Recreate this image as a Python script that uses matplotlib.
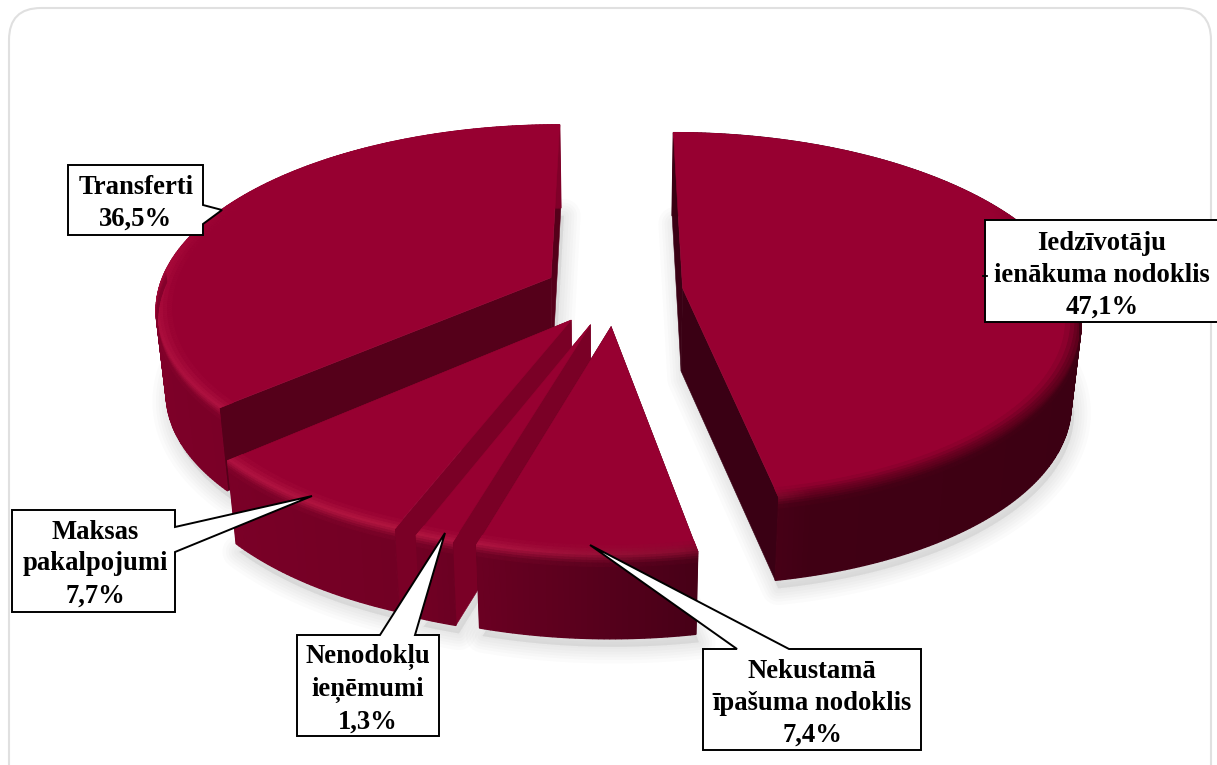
import numpy as np
import matplotlib
matplotlib.use("Agg")
import matplotlib.pyplot as plt
from matplotlib.patches import Polygon, FancyBboxPatch
from matplotlib.collections import PolyCollection
from matplotlib.colors import to_rgb

# ---- data ----
categories = ["Iedzīvotāju\nienākuma nodoklis", "Nekustamā\nīpašuma nodoklis",
              "Nenodokļu\nieņēmumi", "Maksas\npakalpojumi", "Transferti"]
values = [47.1, 7.4, 1.3, 7.7, 36.5]

# ---- geometry and style ----
explode = [68, 75, 75, 75, 71]
wall_cols = ["#3a0014", "#4a0018", "#7a0026", "#7a0026", "#55001a"]
draw_order = [4, 0, 3, 2, 1]
CX, CY, R, K, P, H, TAPER = 615, 291, 393, 0.46, 0.0004, 83, 0.022
TOP = np.array(to_rgb("#970031"))

W, Hpx = 1217, 765
fig = plt.figure(figsize=(W / 100, Hpx / 100), dpi=100, facecolor="white")
ax = fig.add_axes([0, 0, 1, 1])
ax.set_xlim(0, W)
ax.set_ylim(Hpx, 0)
ax.axis("off")

ax.add_patch(FancyBboxPatch((39, 38), 1142, 780, boxstyle="round,pad=30,rounding_size=32",
                            fc="white", ec="#e0e0e0", lw=1.5, zorder=0))


def project(theta, r, e, mid, z=0.0):
    t, m = np.radians(theta), np.radians(mid)
    X = r * np.sin(t) + e * np.sin(m)
    Y = r * np.cos(t) + e * np.cos(m)
    s = 1 / (1 + P * Y)
    return np.column_stack([CX + X * s * (1 - TAPER * z) * np.ones_like(t),
                            CY - Y * K * s + H * z])


def mix(a, b, f):
    return a + (b - a) * f


ang_pts = [60, 90, 165, 172, 196, 201, 228, 270, 300, 360]
def interp_col(theta, cols):
    rgb = np.array([to_rgb(c) for c in cols])
    th = np.mod(theta, 360)
    return np.array([np.interp(th, ang_pts, rgb[:, i]) for i in range(3)])


WALL = ["#3a0012", "#3a0012", "#400014", "#4a0018", "#6a0022", "#720024", "#7a0027", "#800029", "#800029", "#800029"]
RIM = ["#970031", "#5a001b", "#6a0021", "#8a0c30", "#ad1340", "#b0153f", "#ae1240", "#a80a3a", "#970031", "#970031"]

angles = np.cumsum([0] + [v / sum(values) * 360 for v in values])

# soft shadow below every slice
for i in draw_order:
    a0, a1 = angles[i], angles[i + 1]
    mid = (a0 + a1) / 2
    th = np.linspace(a0, a1, 120)
    arc = project(th, R, explode[i], mid, 1)
    apex = project(np.array([mid]), 0, explode[i], mid, 1)
    poly = np.vstack([apex, arc]) + np.array([3, 8])
    for w in (3, 7, 11, 15, 19, 24):
        ax.add_patch(Polygon(poly, closed=True, fc="#b0b0b0", ec="#a8a8a8", alpha=0.045,
                             lw=w, joinstyle="round", zorder=1))

# slices, painted from back to front
zo = 2
for i in draw_order:
    a0, a1 = angles[i], angles[i + 1]
    mid = (a0 + a1) / 2
    e = explode[i]
    th = np.linspace(a0, a1, max(int((a1 - a0) * 1.5), 6))
    top = project(th, R, e, mid, 0)
    bot = project(th, R, e, mid, 1)
    apex_t = project(np.array([mid]), 0, e, mid, 0)[0]
    apex_b = project(np.array([mid]), 0, e, mid, 1)[0]

    # radial walls
    for idx in (0, -1):
        ax.add_patch(Polygon([apex_t, top[idx], bot[idx], apex_b], closed=True,
                             fc=wall_cols[i], ec=wall_cols[i], lw=0.4, zorder=zo))
    zo += 1

    # outer side, one quad per angular step
    quads, cols = [], []
    for j in range(len(th) - 1):
        quads.append([top[j], top[j + 1], bot[j + 1], bot[j]])
        cols.append(interp_col((th[j] + th[j + 1]) / 2, WALL))
    ax.add_collection(PolyCollection(quads, facecolors=cols, edgecolors=cols, lw=1.0,
                                     joinstyle="bevel", zorder=zo))
    zo += 1

    # top face
    ax.add_patch(Polygon(np.vstack([apex_t, top]), closed=True, fc=TOP, ec=TOP, lw=0.4, zorder=zo))
    zo += 1

    # soft bevel: top colour -> highlight at the rim -> wall colour
    quads, cols = [], []
    for r_out, r_in, f in [(15, 10, 0.2), (10, 6, 0.5), (6, 3, 0.8), (3, 0, 1.0)]:
        p_out = project(th, R - r_in, e, mid, 0)
        p_in = project(th, R - r_out, e, mid, 0)
        for j in range(len(th) - 1):
            m = (th[j] + th[j + 1]) / 2
            quads.append([p_in[j], p_in[j + 1], p_out[j + 1], p_out[j]])
            cols.append(mix(TOP, interp_col(m, RIM), f))
    for z0, z1, f in [(0, .03, .2), (.03, .06, .45), (.06, .09, .7), (.09, .13, .9)]:
        p0 = project(th, R, e, mid, z0)
        p1 = project(th, R, e, mid, z1)
        for j in range(len(th) - 1):
            m = (th[j] + th[j + 1]) / 2
            if 90 <= m <= 272:
                quads.append([p0[j], p0[j + 1], p1[j + 1], p1[j]])
                cols.append(mix(interp_col(m, RIM), interp_col(m, WALL), f))
    ax.add_collection(PolyCollection(quads, facecolors=cols, edgecolors=cols, lw=0.8, zorder=zo))
    zo += 1

# ---- labels ----
label_font = dict(family="Liberation Serif", weight="bold", size=19.2, color="black",
                  ha="center", va="center", linespacing=1.36)
callouts = {
    "Transferti": ([(68, 165), (203, 165), (203, 205), (222, 210), (203, 224), (203, 235), (68, 235)], (136, 203)),
    "Iedzīvotāju\nienākuma nodoklis": ([(985, 220), (1219, 220), (1219, 322), (985, 322)], (1102, 275)),
    "Maksas\npakalpojumi": ([(12, 510), (175, 510), (175, 527), (312, 496), (175, 552), (175, 612), (12, 612)], (95, 564)),
    "Nenodokļu\nieņēmumi": ([(297, 635), (380, 635), (445, 533), (415, 635), (439, 635), (439, 736), (297, 736)], (368, 689)),
    "Nekustamā\nīpašuma nodoklis": ([(703, 649), (737, 649), (590, 545), (789, 649), (921, 649), (921, 750), (703, 750)], (812, 703)),
}
for name, val in zip(categories, values):
    pts, centre = callouts[name]
    ax.add_patch(Polygon(pts, closed=True, fc="white", ec="black", lw=1.4, joinstyle="miter", zorder=100))
    ax.text(*centre, f"{name}\n{val:.1f}%".replace(".", ","), zorder=101, **label_font)
ax.plot([983, 987], [276, 276], color="black", lw=1.3, zorder=102)

fig.savefig("out.png", dpi=100, facecolor="white")
